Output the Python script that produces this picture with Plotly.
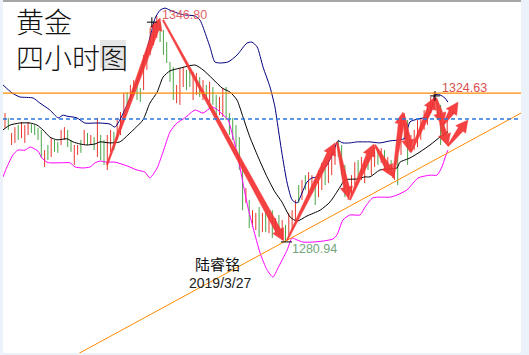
import plotly.graph_objects as go

# ---------------- data ----------------
bar_index = list(range(135))
opens = [1314.8, 1316.8, 1309.8, 1310.4, 1314.6, 1311.6, 1310.4, 1312.6, 1315.0, 1314.6,
         1313.8, 1313.0, 1303.3, 1308.8, 1306.2, 1310.2, 1309.7, 1309.7, 1311.2, 1313.1,
         1310.2, 1303.9, 1306.8, 1310.3, 1309.7, 1312.3, 1309.6, 1311.1, 1306.3, 1311.6,
         1310.2, 1302.6, 1307.7, 1312.6, 1311.3, 1312.7, 1318.5, 1324.1, 1322.8, 1324.3,
         1326.0, 1325.3, 1325.8, 1331.7, 1336.0, 1338.9, 1341.0, 1344.5, 1342.1, 1338.6,
         1332.9, 1331.3, 1321.9, 1321.5, 1326.6, 1330.6, 1330.6, 1322.9, 1324.3, 1328.5,
         1322.8, 1326.2, 1322.2, 1325.6, 1323.3, 1318.4, 1317.9, 1325.5, 1318.0, 1316.6,
         1314.5, 1311.0, 1303.4, 1292.8, 1292.7, 1285.8, 1284.9, 1290.6, 1284.3, 1289.2,
         1284.0, 1289.7, 1284.3, 1288.3, 1282.0, 1285.4, 1283.5, 1284.9, 1287.8, 1297.0,
         1293.7, 1299.9, 1295.1, 1295.7, 1298.5, 1294.5, 1296.6, 1302.0, 1298.6, 1300.9,
         1303.9, 1310.2, 1308.7, 1302.9, 1293.7, 1295.1, 1298.0, 1304.3, 1299.5, 1298.6,
         1305.2, 1300.9, 1303.3, 1307.2, 1304.5, 1307.2, 1301.5, 1304.3, 1299.5, 1305.8,
         1306.8, 1311.2, 1316.0, 1307.4, 1308.2, 1309.1, 1311.2, 1314.1, 1315.5, 1319.0,
         1319.9, 1321.8, 1320.4, 1315.1, 1313.2]
highs = [1318.5, 1317.1, 1312.7, 1314.4, 1315.0, 1315.9, 1315.0, 1315.9, 1315.3, 1315.0,
         1314.2, 1313.6, 1307.7, 1309.2, 1311.2, 1310.7, 1310.1, 1313.6, 1314.4, 1313.6,
         1310.7, 1309.2, 1309.2, 1310.7, 1313.6, 1312.7, 1312.1, 1311.5, 1317.1, 1312.1,
         1310.7, 1312.1, 1313.6, 1313.0, 1317.1, 1318.8, 1324.4, 1324.6, 1326.7, 1328.1,
         1326.4, 1325.8, 1335.4, 1336.9, 1343.3, 1345.0, 1346.8, 1345.0, 1342.7, 1339.2,
         1333.4, 1331.9, 1326.7, 1331.6, 1331.9, 1331.1, 1331.1, 1330.5, 1330.2, 1329.0,
         1328.1, 1326.7, 1327.6, 1326.1, 1323.8, 1323.2, 1325.8, 1326.1, 1318.5, 1317.1,
         1315.0, 1311.5, 1304.0, 1296.7, 1293.2, 1290.2, 1289.4, 1291.1, 1289.4, 1289.7,
         1288.8, 1290.2, 1287.9, 1288.8, 1287.3, 1285.9, 1289.4, 1290.2, 1293.2, 1297.5,
         1299.0, 1300.4, 1301.3, 1300.4, 1299.0, 1301.9, 1304.0, 1302.5, 1304.8, 1308.3,
         1309.8, 1310.7, 1309.2, 1303.4, 1297.5, 1300.4, 1304.2, 1304.8, 1305.7, 1304.0,
         1305.7, 1306.3, 1308.6, 1307.7, 1308.3, 1307.7, 1305.7, 1304.8, 1304.0, 1306.3,
         1316.5, 1318.5, 1316.5, 1312.1, 1313.6, 1316.5, 1317.1, 1319.4, 1320.9, 1323.2,
         1324.63, 1322.3, 1320.9, 1315.6, 1316.5]
lows = [1314.2, 1313.6, 1309.2, 1309.8, 1310.7, 1311.2, 1309.8, 1312.1, 1312.7, 1312.1,
        1310.7, 1305.4, 1302.8, 1304.8, 1305.7, 1307.2, 1306.9, 1309.2, 1310.7, 1308.6,
        1307.2, 1303.4, 1306.3, 1306.9, 1309.2, 1309.2, 1309.2, 1307.7, 1305.7, 1304.8,
        1303.4, 1301.9, 1307.2, 1307.7, 1310.7, 1312.1, 1317.9, 1320.9, 1322.3, 1323.8,
        1322.3, 1321.7, 1325.2, 1331.1, 1335.4, 1338.3, 1340.4, 1339.2, 1335.4, 1333.1,
        1327.6, 1322.3, 1321.4, 1320.9, 1326.1, 1325.2, 1326.1, 1322.3, 1323.8, 1323.2,
        1322.3, 1322.3, 1321.7, 1320.9, 1317.1, 1317.9, 1317.4, 1316.5, 1312.1, 1310.7,
        1308.6, 1301.9, 1290.2, 1292.3, 1285.0, 1285.3, 1284.4, 1282.4, 1283.8, 1283.8,
        1283.5, 1282.1, 1283.8, 1283.0, 1281.5, 1280.94, 1283.0, 1284.4, 1287.3, 1292.3,
        1293.2, 1296.1, 1294.6, 1295.2, 1291.7, 1294.0, 1296.1, 1297.5, 1298.1, 1300.4,
        1303.4, 1305.7, 1300.4, 1294.0, 1293.2, 1294.6, 1297.5, 1299.6, 1299.0, 1298.1,
        1301.9, 1300.4, 1302.8, 1303.4, 1304.0, 1301.9, 1301.0, 1300.4, 1299.0, 1297.5,
        1306.3, 1310.7, 1303.4, 1306.9, 1307.7, 1308.6, 1310.7, 1313.6, 1315.0, 1318.5,
        1319.4, 1316.5, 1309.2, 1311.5, 1312.7]
closes = [1317.8, 1314.0, 1312.3, 1313.9, 1311.2, 1315.3, 1314.5, 1315.4, 1313.1, 1312.5,
          1311.0, 1306.0, 1307.2, 1305.3, 1310.6, 1307.6, 1307.3, 1313.0, 1313.9, 1309.1,
          1307.6, 1308.7, 1308.8, 1307.3, 1313.1, 1309.6, 1311.7, 1308.1, 1316.4, 1305.3,
          1303.9, 1311.4, 1313.0, 1308.2, 1316.5, 1318.2, 1323.8, 1321.4, 1326.2, 1327.6,
          1322.8, 1322.2, 1334.8, 1336.3, 1342.7, 1344.4, 1345.6, 1339.8, 1336.0, 1333.6,
          1328.1, 1322.9, 1326.1, 1331.0, 1331.4, 1325.7, 1326.6, 1329.9, 1329.7, 1323.7,
          1327.6, 1322.8, 1327.1, 1321.4, 1317.6, 1322.7, 1325.2, 1317.0, 1312.6, 1311.2,
          1309.1, 1302.4, 1290.8, 1296.2, 1285.5, 1289.7, 1288.9, 1283.0, 1288.9, 1284.3,
          1288.3, 1282.6, 1287.4, 1283.5, 1286.8, 1281.5, 1288.9, 1289.7, 1292.7, 1292.8,
          1298.5, 1296.6, 1300.8, 1299.9, 1292.2, 1301.4, 1303.5, 1298.0, 1304.3, 1307.8,
          1309.3, 1306.2, 1300.9, 1294.5, 1297.0, 1299.9, 1303.7, 1300.1, 1305.2, 1303.5,
          1302.4, 1305.8, 1308.1, 1303.9, 1307.8, 1302.4, 1305.2, 1300.9, 1303.5, 1298.0,
          1316.0, 1318.0, 1303.9, 1311.6, 1313.1, 1316.0, 1316.6, 1318.9, 1320.4, 1322.7,
          1324.1, 1317.0, 1309.7, 1312.0, 1316.0]

# Bollinger bands (sampled along the bar index)
upper_x = [-0.6, 2.1, 4.5, 8.5, 10.6, 13.6, 16.1, 17.6, 18.8, 21.8, 24.2, 27.3, 28.8, 31.8, 33.3,
           34.8, 37.0, 40.0, 41.8, 43.9, 45.5, 47.0, 48.5, 50.0, 53.0, 54.5, 57.6, 59.1, 60.0,
           62.1, 63.6, 65.2, 67.6, 70.3, 73.3, 74.8, 76.4, 78.2, 80.3, 81.8, 82.4, 83.9, 85.5,
           87.0, 88.5, 90.0, 91.5, 93.0, 94.5, 97.6, 99.4, 100.9, 102.4, 104.5, 106.7, 109.1,
           110.6, 113.6, 116.7, 119.7, 121.2, 122.7, 125.2, 127.9, 129.4, 130.3, 131.8, 133.3, 134.2]
upper = [1326.7, 1324.4, 1323.2, 1322.9, 1321.4, 1319.4, 1317.1, 1317.9, 1317.6, 1317.1, 1315.6,
         1315.6, 1315.6, 1315.3, 1314.4, 1316.5, 1320.9, 1327.6, 1332.5, 1340.4, 1346.2, 1348.5,
         1349.1, 1348.5, 1347.4, 1347.1, 1346.8, 1345.6, 1343.6, 1337.8, 1333.4, 1333.1, 1333.4,
         1335.4, 1338.9, 1339.2, 1337.8, 1331.9, 1326.1, 1320.3, 1316.5, 1306.9, 1298.1, 1293.2,
         1292.3, 1295.2, 1298.4, 1299.6, 1299.9, 1303.4, 1306.9, 1310.4, 1309.8, 1309.8, 1310.1,
         1310.1, 1310.1, 1309.8, 1310.4, 1310.7, 1311.2, 1315.9, 1316.8, 1317.4, 1320.3, 1323.8,
         1323.8, 1322.9, 1321.7]
middle_x = [-0.6, 1.5, 4.5, 7.6, 9.7, 11.5, 13.6, 15.8, 18.8, 20.6, 22.7, 24.8, 27.3, 28.8, 31.8,
            34.8, 37.9, 41.8, 43.9, 46.1, 47.9, 50.0, 53.0, 57.6, 60.0, 63.0, 65.8, 68.2, 70.3,
            72.1, 74.2, 76.7, 79.4, 81.8, 83.9, 86.4, 88.5, 91.5, 95.5, 98.5, 101.5, 103.0, 106.7,
            109.1, 110.6, 113.6, 116.7, 118.8, 119.7, 122.7, 125.8, 128.8, 131.8, 134.2]
middle = [1313.6, 1315.0, 1315.6, 1315.6, 1315.0, 1313.6, 1311.5, 1310.7, 1311.0, 1310.1, 1309.5,
          1309.2, 1309.5, 1310.1, 1309.8, 1310.1, 1312.7, 1316.5, 1321.4, 1324.6, 1329.0, 1330.8,
          1331.6, 1332.5, 1331.1, 1328.4, 1325.8, 1324.6, 1322.3, 1317.4, 1311.5, 1305.7, 1299.9,
          1295.5, 1292.6, 1288.2, 1287.0, 1288.5, 1290.2, 1292.6, 1296.9, 1299.0, 1299.3, 1299.9,
          1299.9, 1301.9, 1302.2, 1302.5, 1304.2, 1305.4, 1307.2, 1309.2, 1311.5, 1313.0]
lower_x = [-0.6, 0.6, 2.4, 3.9, 6.1, 7.6, 8.5, 10.0, 11.2, 12.7, 13.6, 16.7, 19.7, 21.2, 23.6,
           25.8, 27.3, 28.8, 30.9, 33.3, 37.0, 40.0, 42.4, 43.9, 46.1, 47.9, 50.0, 52.1, 54.5,
           57.6, 60.0, 62.7, 64.5, 66.1, 67.6, 69.1, 70.6, 72.1, 73.6, 75.2, 77.3, 79.4, 81.2,
           82.7, 85.5, 87.0, 88.5, 90.3, 93.3, 96.4, 99.4, 100.6, 102.4, 104.5, 107.6, 109.1,
           111.5, 116.7, 118.8, 121.8, 125.2, 128.8, 130.9, 132.4, 133.3, 134.2]
lower = [1299.9, 1302.8, 1306.3, 1307.7, 1307.7, 1308.6, 1308.3, 1307.4, 1305.4, 1304.2, 1304.0,
         1304.0, 1304.0, 1302.8, 1302.5, 1302.8, 1304.0, 1304.5, 1304.2, 1304.2, 1303.1, 1301.9,
         1301.3, 1299.6, 1302.5, 1307.2, 1313.0, 1315.6, 1317.1, 1319.4, 1318.5, 1320.3, 1319.4,
         1317.9, 1316.5, 1311.5, 1305.7, 1298.1, 1291.1, 1285.0, 1277.7, 1272.8, 1270.7, 1273.3,
         1278.6, 1282.1, 1281.5, 1280.9, 1280.9, 1281.2, 1281.8, 1283.0, 1287.3, 1288.8, 1288.8,
         1291.1, 1293.8, 1294.0, 1294.6, 1296.1, 1299.6, 1300.4, 1300.4, 1302.8, 1305.4, 1307.7]

# horizontal levels and trend line
level_resistance = 1324.3
level_dashed = 1316.8
trend_i = [20, 160]
trend_p = [1247.2, 1320.4]

# red arrows (start / end in bar index, price)
arrow_from_i = [30.9, 47.9, 85.5, 100.6, 104.5, 112.1, 117.6, 120.9, 123.0, 130.6, 132.7, 131.5, 134.2]
arrow_from_p = [1303.4, 1345.6, 1281.5, 1310.1, 1293.2, 1309.2, 1299.6, 1317.9, 1307.2, 1322.9, 1315.0, 1317.9, 1308.9]
arrow_to_i = [47.0, 84.5, 100.0, 104.2, 111.8, 117.6, 120.6, 122.7, 130.3, 132.7, 137.3, 134.2, 140.3]
arrow_to_p = [1346.2, 1281.2, 1309.8, 1293.5, 1309.5, 1299.9, 1318.8, 1307.2, 1323.2, 1315.0, 1321.7, 1308.9, 1316.5]

# price labels and marks
high_label_pos = (47.0, 1347.1)
res_label_pos = (131.8, 1325.8)
low_label_pos = (86.4, 1278.9)
cross_i = [44.5, 130.3]
cross_p = [1345.0, 1323.5]
low_mark_i = [85.3]
low_mark_p = [1280.94]

title_lines = ["黄金", "四小时图"]
author = "陆睿铭"
date_text = "2019/3/27"

# ---------------- layout geometry ----------------
W, H = 529, 355
PL, PT, PW, PH = 3, 2, 518, 351
XR = (-0.606, 156.36)
YR = (1248.56, 1350.88)


def to_px(i, p):
    return (PL + (i - XR[0]) / (XR[1] - XR[0]) * PW,
            PT + (YR[1] - p) / (YR[1] - YR[0]) * PH)


def to_data(X, Y):
    return (XR[0] + (X - PL) / PW * (XR[1] - XR[0]),
            YR[1] - (Y - PT) / PH * (YR[1] - YR[0]))


def px_paper(X, Y):
    return (X - PL) / PW, 1 - (Y - PT) / PH


fig = go.Figure()

# candles as OHLC bars
fig.add_trace(go.Ohlc(x=bar_index, open=opens, high=highs, low=lows, close=closes,
                      increasing=dict(line=dict(color="#E8362C", width=1)),
                      decreasing=dict(line=dict(color="#48A548", width=1)),
                      tickwidth=0, hoverinfo="skip", showlegend=False))

fig.add_trace(go.Scatter(x=upper_x, y=upper, mode="lines",
                         line=dict(color="#00007F", width=1, shape="spline", smoothing=0.6),
                         hoverinfo="skip", showlegend=False))
fig.add_trace(go.Scatter(x=middle_x, y=middle, mode="lines",
                         line=dict(color="#000000", width=1, shape="spline", smoothing=0.6),
                         hoverinfo="skip", showlegend=False))
fig.add_trace(go.Scatter(x=lower_x, y=lower, mode="lines",
                         line=dict(color="#FF00FF", width=1, shape="spline", smoothing=0.6),
                         hoverinfo="skip", showlegend=False))

fig.add_trace(go.Scatter(x=trend_i, y=trend_p, mode="lines",
                         line=dict(color="#FF8A00", width=1),
                         hoverinfo="skip", showlegend=False))

# tapered arrows as filled polygons
ax, ay = [], []
for fi, fp, ti, tp in zip(arrow_from_i, arrow_from_p, arrow_to_i, arrow_to_p):
    X0, Y0 = to_px(fi, fp)
    X1, Y1 = to_px(ti, tp)
    dx, dy = X1 - X0, Y1 - Y0
    L = (dx * dx + dy * dy) ** 0.5
    ux, uy = dx / L, dy / L
    nx, ny = -uy, ux
    hl = 12.0
    w0, w1, wh = 0.8, 3.0, 6.3
    NX, NY = X1 - ux * hl, Y1 - uy * hl
    pts = [(X0 + nx * w0, Y0 + ny * w0), (NX + nx * w1, NY + ny * w1),
           (NX + nx * wh, NY + ny * wh), (X1, Y1),
           (NX - nx * wh, NY - ny * wh), (NX - nx * w1, NY - ny * w1),
           (X0 - nx * w0, Y0 - ny * w0), (X0 + nx * w0, Y0 + ny * w0)]
    for (PX, PY) in pts:
        di, dp = to_data(PX, PY)
        ax.append(di)
        ay.append(dp)
    ax.append(None)
    ay.append(None)
fig.add_trace(go.Scatter(x=ax, y=ay, mode="lines", fill="toself",
                         fillcolor="rgba(243,52,52,0.93)",
                         line=dict(color="rgba(243,52,52,0.6)", width=0.6),
                         hoverinfo="skip", showlegend=False))

# small marks
fig.add_trace(go.Scatter(x=cross_i, y=cross_p, mode="markers",
                         marker=dict(symbol="cross-thin", size=7, line=dict(color="#000", width=1)),
                         hoverinfo="skip", showlegend=False))
fig.add_trace(go.Scatter(x=low_mark_i, y=low_mark_p, mode="markers",
                         marker=dict(symbol="line-ew", size=8, line=dict(color="#000", width=1)),
                         hoverinfo="skip", showlegend=False))

shapes = [
    dict(type="line", xref="paper", yref="y", x0=0, x1=1, y0=level_resistance, y1=level_resistance,
         line=dict(color="#FF8A00", width=1.2)),
    dict(type="line", xref="paper", yref="y", x0=0, x1=1, y0=level_dashed, y1=level_dashed,
         line=dict(color="#2A78E0", width=1.5, dash="4px,3px")),
]
gx0, gy1 = px_paper(100, 40)
gx1, gy0 = px_paper(126, 68)
shapes.append(dict(type="rect", xref="paper", yref="paper", x0=gx0, x1=gx1, y0=gy0, y1=gy1,
                   fillcolor="#E6E6E6", line=dict(width=0), layer="below"))
_, ytop = px_paper(0, 1)
shapes.append(dict(type="line", xref="paper", yref="paper", x0=0, x1=1, y0=ytop, y1=ytop,
                   line=dict(color="#8C8C8C", width=1.5)))

annotations = []
tx, ty = px_paper(14, 38.5)
annotations.append(dict(text="<br>".join(title_lines), xref="paper", yref="paper", x=tx, y=ty,
                        xanchor="left", yanchor="middle", align="left", showarrow=False,
                        font=dict(family="Noto Sans CJK SC", size=28, color="#111", weight=300)))
ax_, ay_ = px_paper(217.5, 263.5)
annotations.append(dict(text=author, xref="paper", yref="paper", x=ax_, y=ay_,
                        xanchor="center", yanchor="middle", showarrow=False,
                        font=dict(family="Noto Sans CJK SC", size=15, color="#111")))
dx_, dy_ = px_paper(220, 282.5)
annotations.append(dict(text=date_text, xref="paper", yref="paper", x=dx_, y=dy_,
                        xanchor="center", yanchor="middle", showarrow=False,
                        font=dict(family="Liberation Sans", size=14, color="#222")))

annotations.append(dict(text=f"{max(highs):.2f}", x=high_label_pos[0], y=high_label_pos[1],
                        xref="x", yref="y", xanchor="left", yanchor="middle", showarrow=False,
                        font=dict(family="Liberation Sans", size=12.5, color="#E06464")))
annotations.append(dict(text=f"{highs[130]:.2f}", x=res_label_pos[0], y=res_label_pos[1],
                        xref="x", yref="y", xanchor="left", yanchor="middle", showarrow=False,
                        font=dict(family="Liberation Sans", size=12.5, color="#D85050")))
annotations.append(dict(text=f"{min(lows):.2f}", x=low_label_pos[0], y=low_label_pos[1],
                        xref="x", yref="y", xanchor="left", yanchor="middle", showarrow=False,
                        font=dict(family="Liberation Sans", size=12.5, color="#72A67C")))

fig.update_layout(
    width=W, height=H,
    margin=dict(l=PL, r=W - PL - PW, t=PT, b=H - PT - PH, pad=0),
    paper_bgcolor="#ECF2F9", plot_bgcolor="#FFFFFF",
    xaxis=dict(range=list(XR), visible=False, showgrid=False, zeroline=False,
               rangeslider=dict(visible=False), fixedrange=True),
    yaxis=dict(range=list(YR), visible=False, showgrid=False, zeroline=False, fixedrange=True),
    shapes=shapes, annotations=annotations, showlegend=False,
)

fig.write_html("out.html", config={"displayModeBar": False})
